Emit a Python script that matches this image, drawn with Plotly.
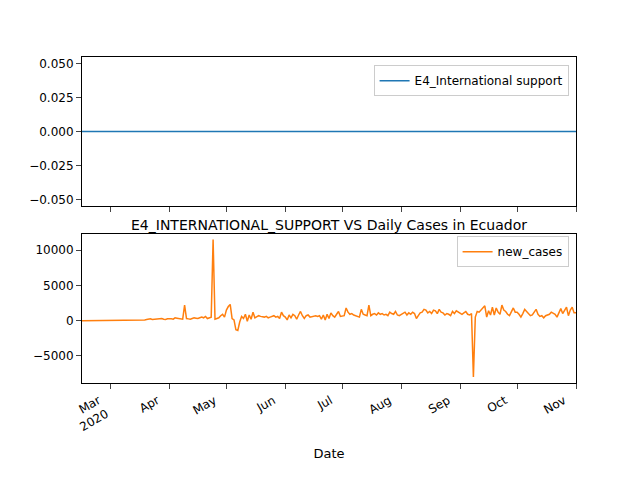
import pandas as pd
import plotly.graph_objects as go
from plotly.subplots import make_subplots

dates = pd.date_range("2020-02-15", "2020-11-01", freq="D")

feb = [0] * 15
mar = [0] * 12 + [5, 10, 20, 30, 50, 80, 100, 150, 200, 250, 150, 180, 120, 200, 250, 300, 200, 150, 250]
apr = [300, 250, 200, 400, 350, 300, 250, 200, 2200, 300, 250, 200, 300, 400, 350, 300, 400, 500, 400, 600,
       300, 400, 500, 11500, 200, 300, 400, 700, 900, 500]
may = [1500, 2000, 2300, 300, 100, -1300, -1400, -200, 600, 300, 900, -100, 800, 200, 1200, 400, 500, 700, 600, 500,
       500, 600, 400, 500, 600, 700, 500, 600, 300, 1200, 700]
jun = [500, 100, 800, 400, 900, 700, 200, 800, 1300, 700, 300, 700, 800, 500, 600, 600, 700, 600, 700, 200,
       800, 100, 900, 300, 1100, 700, 500, 900, 1300, 600]
jul = [600, 700, 1800, 1200, 900, 1000, 800, 700, 600, 500, 1600, 900, 800, 700, 2200, 700, 900, 1000, 800, 1100,
       900, 1000, 800, 900, 700, 1200, 1000, 900, 1300, 800, 700]
aug = [900, 1000, 1200, 800, 1100, 900, 1200, 1000, 300, 700, 1100, 1200, 1600, 1500, 1100, 1300, 1000, 1500, 1400, 1000,
       1600, 1200, 1100, 800, 1000, 900, 700, 1300, 1000, 1400, 1200]
sep = [1000, 900, 1100, 1300, 900, 800, 1000, -8000, 500, 1300, 1200, 1500, 1700, 2100, 500, 1400, 800, 1900, 800, 1800,
       1200, 900, 2200, 1500, 1300, 900, 700, 1300, 1800, 1200]
oct_ = [1200, 900, 500, 1000, 1600, 1300, 1000, 700, 800, 1200, 1600, 900, 600, 700, 400, 700, 800, 900, 1200, 1000,
        900, 500, 1200, 1700, 1000, 1400, 1900, 700, 1500, 1900, 1100]
nov = [1100]
new_cases = feb + mar + apr + may + jun + jul + aug + sep + oct_ + nov
new_cases = new_cases[:len(dates)] + [1100] * max(0, len(dates) - len(new_cases))
support = [0] * len(dates)

fig = make_subplots(rows=2, cols=1, shared_xaxes=True, vertical_spacing=0.085)
fig.add_trace(go.Scatter(x=dates, y=support, mode="lines", line=dict(color="#1f77b4", width=1.5),
                         name="E4_International support", legend="legend", showlegend=True), row=1, col=1)
fig.add_trace(go.Scatter(x=dates, y=new_cases, mode="lines", line=dict(color="#ff7f0e", width=1.5),
                         name="new_cases", legend="legend2", showlegend=True), row=2, col=1)

ax = dict(showline=True, mirror=True, linecolor="black", ticks="outside", showgrid=False, zeroline=False,
          tickfont=dict(size=12, color="black"))
fig.update_xaxes(**ax, range=[dates[0], dates[-1]], dtick="M1", tick0="2020-03-01")
fig.update_xaxes(row=2, col=1, tickangle=-30, ticklabelshift=-12,
                 tickvals=pd.date_range("2020-03-01", "2020-11-01", freq="MS"),
                 ticktext=["Mar<br>2020", "Apr", "May", "Jun", "Jul", "Aug", "Sep", "Oct", "Nov"],
                 title=dict(text="Date", font=dict(size=13, color="black")))
fig.update_yaxes(**ax)
fig.update_yaxes(row=1, col=1, range=[-0.055, 0.055], tickvals=[-0.05, -0.025, 0, 0.025, 0.05],
                 ticktext=["−0.050", "−0.025", "0.000", "0.025", "0.050"])
fig.update_yaxes(row=2, col=1, range=[-8840, 12300], tickvals=[-5000, 0, 5000, 10000],
                 ticktext=["−5000", "0", "5000", "10000"])

fig.update_layout(
    width=640, height=480, template="simple_white", plot_bgcolor="white", showlegend=True,
    font=dict(family="DejaVu Sans", size=12, color="black"),
    margin=dict(l=74, r=72, t=49, b=105),
    legend=dict(x=0.985, y=0.975, xanchor="right", yanchor="top", bordercolor="#ccc", borderwidth=1, font=dict(size=12)),
    legend2=dict(x=0.985, y=0.45, xanchor="right", yanchor="top", bordercolor="#ccc", borderwidth=1, font=dict(size=12)),
    annotations=[dict(text="E4_INTERNATIONAL_SUPPORT VS Daily Cases in Ecuador", xref="paper", yref="paper",
                      x=0.5, y=0.455, yanchor="bottom", showarrow=False, font=dict(size=14))],
)
fig.write_html("out.html")
